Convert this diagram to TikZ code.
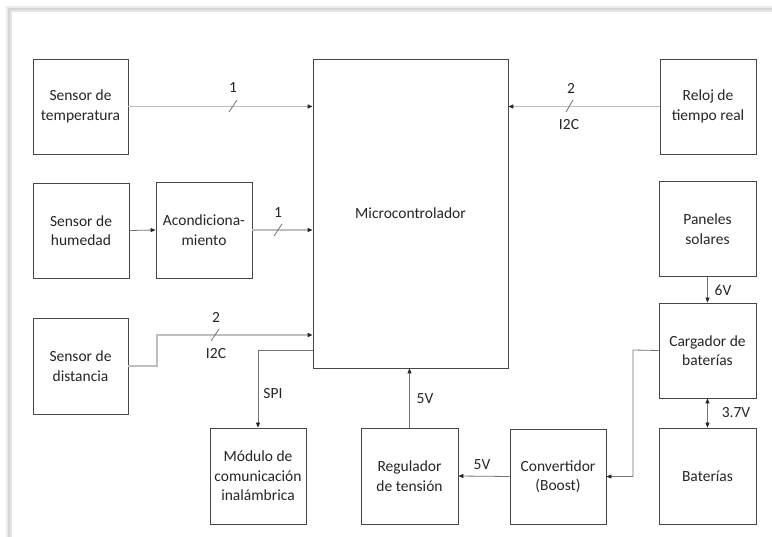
\documentclass[tikz,border=0pt]{standalone}
\usepackage{fontspec}
\setmainfont{Carlito}
\usetikzlibrary{arrows.meta}
\begin{document}
\begin{tikzpicture}[x=1pt,y=-1pt,
  box/.style={draw=black!72,line width=0.8pt,fill=white,align=center,inner sep=0pt,
    font=\fontsize{15.5}{19.5}\selectfont,text=black!85},
  conn/.style={draw=black!55,line width=0.8pt},
  lconn/.style={draw=black!25,line width=1.2pt},
  tip/.style={-{Triangle[length=5pt,width=4pt,color=black!85]}},
  lbl/.style={font=\fontsize{15.5}{18}\selectfont,text=black!85,inner sep=1pt},
  slash/.style={draw=black!55,line width=0.8pt}]
\useasboundingbox (0,0) rectangle (772,537);
% page shadow
\fill[black!8] (6,6) rectangle (772,537);
\fill[black!16] (8,8) rectangle (772,537);
\fill[black!10] (10,10) rectangle (772,537);
\fill[white] (12,12) rectangle (772,537);
% boxes
\node[box,minimum width=95pt,minimum height=95pt] (temp) at (80.5,106.5) {Sensor de\\temperatura};
\node[box,minimum width=96pt,minimum height=95pt] (hum) at (81,230.5) {Sensor de\\humedad};
\node[box,minimum width=96pt,minimum height=96pt] (acond) at (204,230) {Acondiciona-\\miento};
\node[box,minimum width=95pt,minimum height=96pt] (dist) at (80.5,366) {Sensor de\\distancia};
\node[box,minimum width=195pt,minimum height=309pt] (micro) at (410.5,213.5) {Microcontrolador};
\node[box,minimum width=96pt,minimum height=95pt] (rtc) at (708,106.5) {Reloj de\\tiempo real};
\node[box,minimum width=97pt,minimum height=95pt] (pan) at (707.5,229) {Paneles\\solares};
\node[box,minimum width=97pt,minimum height=95pt] (carg) at (707.5,350.5) {Cargador de\\baterías};
\node[box,minimum width=97pt,minimum height=96pt] (bat) at (707.5,476) {Baterías};
\node[box,minimum width=96pt,minimum height=96pt] (mod) at (258,476) {Módulo de\\comunicación\\inalámbrica};
\node[box,minimum width=97pt,minimum height=96pt] (reg) at (409.5,476) {Regulador\\de tensión};
\node[box,minimum width=96pt,minimum height=95pt] (conv) at (558,476.5) {Convertidor\\(Boost)};
% connectors
\draw[lconn,tip] (temp.east) -- (temp.east -| micro.west) coordinate (tm);
\draw[slash] (229,112) -- (237,100);
\node[lbl] (l1) at (233,88) {1};
\draw[conn,tip] (hum.east) -- (acond.west);
\draw[lconn,tip] (acond.east) -- (acond.east -| micro.west);
\draw[slash] (274,236) -- (282,224);
\node[lbl] (l2) at (278,213) {1};
\coordinate (d1) at (157,366);
\coordinate (d2) at (157,335);
\draw[lconn,tip] (dist.east) -- (d1) -- (d2) -- (d2 -| micro.west);
\draw[slash] (211,341) -- (219,329);
\node[lbl] (l3) at (216,317) {2};
\node[lbl] (l4) at (216,354) {I2C};
\draw[lconn,tip] (rtc.west) -- (rtc.west -| micro.east);
\draw[slash] (566,112) -- (573,100);
\node[lbl] (l5) at (571,88) {2};
\node[lbl] (l6) at (569,125) {I2C};
\coordinate (s1) at (313,350);
\coordinate (s2) at (258,350);
\draw[conn,tip] (s1) -- (s2) -- (mod.north);
\node[lbl] (l7) at (273,394) {SPI};
\draw[conn,tip] (reg.north) -- (reg.north |- micro.south);
\node[lbl] (l8) at (425,399) {5V};
\draw[conn,tip] (conv.west) -- (reg.east);
\node[lbl] (l9) at (482,465) {5V};
\coordinate (c1) at (633,350);
\coordinate (c2) at (633,476.5);
\draw[conn,tip] (carg.west) -- (c1) -- (c2) -- (conv.east);
\draw[conn,tip] (pan.south) -- (carg.north);
\node[lbl] (l10) at (723,290) {6V};
\draw[conn,{Triangle[length=5pt,width=4pt,color=black!85]}-{Triangle[length=5pt,width=4pt,color=black!85]}] (carg.south) -- (bat.north);
\node[lbl] (l11) at (736,413) {3.7V};
\end{tikzpicture}
\end{document}
